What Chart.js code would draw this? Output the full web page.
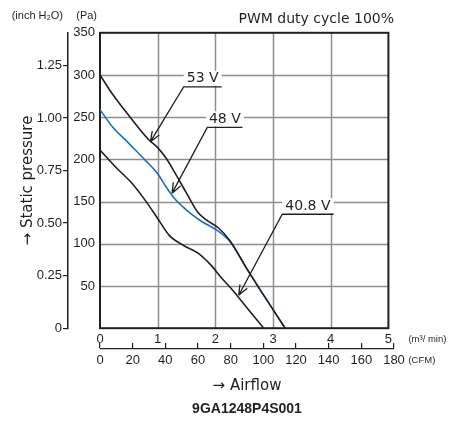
<!DOCTYPE html>
<html lang="en">
<head>
<meta charset="UTF-8" />
<title>9GA1248P4S001</title>
<script src="https://cdn.jsdelivr.net/npm/chart.js@4.4.1/dist/chart.umd.min.js"></script>
<style>
  html, body { margin: 0; padding: 0; background: #fff; }
  #wrap { width: 452px; height: 421px; position: relative; }
</style>
</head>
<body>
<div id="wrap"><canvas id="pq"></canvas></div>
<script>
// airflow (m3/min) vs static pressure (Pa)
const flow53 = [0, 0.2, 0.5, 0.85, 1.0, 1.15, 1.3, 1.5, 1.7, 1.85, 2.05, 2.25, 2.55, 2.8, 3.21];
const pres53 = [300, 279, 252, 223, 214, 201, 184, 160, 137, 128, 119, 104, 70, 43, 0];

const flow48 = [0, 0.2, 0.5, 0.8, 1.0, 1.15, 1.3, 1.5, 1.75, 2.05, 2.25, 2.55, 2.8, 3.21];
const pres48 = [259, 240, 219, 198, 183, 167, 153, 140, 127, 115, 103, 70, 43, 0];

const flow408 = [0, 0.27, 0.55, 0.8, 1.0, 1.2, 1.45, 1.7, 1.92, 2.1, 2.3, 2.55, 2.84];
const pres408 = [211, 191, 172, 150, 130, 110, 98, 89, 75, 60, 45, 24, 0];

const flowTicks = [0, 1, 2, 3, 4, 5];
const pressTicks = [0, 50, 100, 150, 200, 250, 300, 350];
const inchTicks = [0, 0.25, 0.5, 0.75, 1.0, 1.25];
const cfmTicks = [0, 20, 40, 60, 80, 100, 120, 140, 160, 180];

const CFM_PER_M3 = 35.3147;
const PA_PER_INCH = 249.089;

// voltage callouts: underline span (x), its height (Pa) and arrow tip
const callouts = [
  { text: '53 V', x1: 1.45, x2: 2.11, p: 286, tipX: 0.875, tipP: 221 },
  { text: '48 V', x1: 1.86, x2: 2.47, p: 238, tipX: 1.25, tipP: 160 },
  { text: '40.8 V', x1: 3.16, x2: 4.05, p: 135, tipX: 2.405, tipP: 39 }
];

const ink = '#231f20';
const narrow = '"Liberation Sans Narrow", "Liberation Sans", Arial, sans-serif';
const sans = '"DejaVu Sans", sans-serif';

function pts(xs, ys) {
  return xs.map((v, i) => ({ x: v, y: ys[i] }));
}

const frameGrid = {
  id: 'frameGrid',
  beforeDatasetsDraw(chart) {
    const { ctx, scales: { x, y } } = chart;
    const left = x.getPixelForValue(0), right = x.getPixelForValue(5);
    const bottom = y.getPixelForValue(0), top = y.getPixelForValue(350);
    ctx.save();
    ctx.strokeStyle = '#8e8e8e';
    ctx.lineWidth = 1.5;
    ctx.beginPath();
    pressTicks.slice(1, -1).forEach(v => {
      const py = Math.round(y.getPixelForValue(v)) + 0.5;
      ctx.moveTo(left, py); ctx.lineTo(right, py);
    });
    flowTicks.slice(1, -1).forEach(v => {
      const px = Math.round(x.getPixelForValue(v)) + 0.5;
      ctx.moveTo(px, top); ctx.lineTo(px, bottom);
    });
    ctx.stroke();
    ctx.strokeStyle = ink;
    ctx.lineWidth = 2;
    ctx.strokeRect(left, top, right - left, bottom - top);
    ctx.restore();
  },
  afterDraw(chart) {
    const { ctx, chartArea, scales } = chart;
    const cfm = scales.cfm;
    ctx.save();
    // CFM axis line, ticks sit on top of it
    ctx.strokeStyle = ink;
    ctx.lineWidth = 1.2;
    ctx.beginPath();
    ctx.moveTo(cfm.left, cfm.top + 5.5);
    ctx.lineTo(cfm.right, cfm.top + 5.5);
    ctx.stroke();

    ctx.fillStyle = ink;
    ctx.textBaseline = 'middle';
    ctx.font = '11px ' + narrow;
    ctx.textAlign = 'right';
    ctx.fillText('(Pa)', scales.y.right - 3, chartArea.top - 17);
    ctx.fillText('(inch H\u2082O)', scales.yIn.right - 5, chartArea.top - 17);
    ctx.textAlign = 'left';
    ctx.font = '9.5px ' + narrow;
    const ux = scales.x.getPixelForValue(5) + 20;
    ctx.fillText('(m\u00b3/ min)', ux, chartArea.bottom + 11);
    ctx.fillText('(CFM)', ux, cfm.top + 17);
    ctx.restore();
  }
};

const calloutPlugin = {
  id: 'callouts',
  afterDatasetsDraw(chart) {
    const { ctx, scales: { x, y } } = chart;
    ctx.save();
    ctx.strokeStyle = ink;
    ctx.fillStyle = ink;
    ctx.lineWidth = 1.3;
    ctx.font = '14px ' + sans;
    callouts.forEach(c => {
      const ax = x.getPixelForValue(c.x1), bx = x.getPixelForValue(c.x2);
      const ly = y.getPixelForValue(c.p);
      const tx = x.getPixelForValue(c.tipX), ty = y.getPixelForValue(c.tipP);
      // text on a white patch above the underline
      const cx = (ax + bx) / 2, cy = ly - 8;
      const w = ctx.measureText(c.text).width;
      ctx.fillStyle = '#fff';
      ctx.fillRect(cx - w / 2 - 3, cy - 8, w + 6, 15);
      ctx.fillStyle = ink;
      ctx.textAlign = 'center';
      ctx.textBaseline = 'middle';
      ctx.fillText(c.text, cx, cy);
      ctx.beginPath();
      ctx.moveTo(bx, ly); ctx.lineTo(ax, ly); ctx.lineTo(tx, ty);
      const ang = Math.atan2(ty - ly, tx - ax);
      [0.38, -0.38].forEach(d => {
        ctx.moveTo(tx, ty);
        ctx.lineTo(tx - 11 * Math.cos(ang + d), ty - 11 * Math.sin(ang + d));
      });
      ctx.stroke();
    });
    ctx.restore();
  }
};

const lineSet = (label, data, color) => ({
  label, data,
  borderColor: color,
  borderWidth: 1.6,
  pointRadius: 0,
  cubicInterpolationMode: 'monotone',
  fill: false
});

new Chart(document.getElementById('pq'), {
  type: 'line',
  data: {
    datasets: [
      lineSet('53 V', pts(flow53, pres53), ink),
      lineSet('48 V', pts(flow48, pres48), '#1c6fc3'),
      lineSet('40.8 V', pts(flow408, pres408), ink)
    ]
  },
  options: {
    responsive: true,
    maintainAspectRatio: false,
    animation: false,
    events: [],
    layout: { padding: { left: 0, right: 58, top: 0, bottom: 0 } },
    plugins: {
      legend: { display: false },
      tooltip: { enabled: false },
      title: {
        display: true,
        text: 'PWM duty cycle 100%',
        align: 'end',
        fullSize: false,
        color: ink,
        font: { family: sans, size: 14, weight: 'normal' },
        padding: { top: 11, bottom: 5 }
      },
      subtitle: {
        display: true,
        position: 'bottom',
        text: '9GA1248P4S001',
        fullSize: false,
        color: ink,
        font: { family: '"Liberation Sans", Arial, sans-serif', size: 14, weight: 'bold' },
        padding: { top: 6, bottom: 3 }
      }
    },
    scales: {
      x: {
        type: 'linear',
        position: 'bottom',
        weight: 0,
        min: 0,
        max: 180 / CFM_PER_M3,
        afterBuildTicks: s => { s.ticks = flowTicks.map(v => ({ value: v })); },
        afterFit: s => { s.height = 15; },
        grid: { display: false, drawTicks: false },
        border: { display: false },
        ticks: { color: ink, padding: 3, maxRotation: 0, font: { family: narrow, size: 13 } }
      },
      cfm: {
        type: 'linear',
        position: 'bottom',
        weight: 1,
        min: 0,
        max: 180,
        afterBuildTicks: s => { s.ticks = cfmTicks.map(v => ({ value: v })); },
        afterFit: s => { s.height = 52; },
        grid: { drawOnChartArea: false, drawTicks: true, tickLength: 5, color: ink, lineWidth: 1.2 },
        border: { display: false },
        ticks: { color: ink, padding: 4, maxRotation: 0, font: { family: narrow, size: 13 } },
        title: {
          display: true,
          text: '\u2192 Airflow',
          color: ink,
          font: { family: sans, size: 15 },
          padding: { top: 0, bottom: 0 }
        }
      },
      y: {
        type: 'linear',
        position: 'left',
        weight: 0,
        min: 0,
        max: 350,
        afterBuildTicks: s => { s.ticks = pressTicks.map(v => ({ value: v })); },
        afterFit: s => { s.width = 32; },
        grid: { display: false, drawTicks: false },
        border: { display: false },
        ticks: {
          color: ink, padding: 5,
          font: { family: narrow, size: 13 },
          callback: v => (v === 0 ? '' : String(v))
        }
      },
      yIn: {
        type: 'linear',
        position: 'left',
        weight: 1,
        min: 0,
        max: 350 / PA_PER_INCH,
        afterBuildTicks: s => { s.ticks = inchTicks.map(v => ({ value: v })); },
        afterFit: s => { s.width = 68; },
        grid: { drawOnChartArea: false, drawTicks: true, tickLength: 5, color: ink, lineWidth: 1.2 },
        border: { display: true, color: ink, width: 1.5 },
        ticks: {
          color: ink, padding: 1,
          font: { family: narrow, size: 13 },
          callback: v => (v === 0 ? '0' : v.toFixed(2))
        },
        title: {
          display: true,
          text: '\u2192 Static pressure',
          color: ink,
          font: { family: sans, size: 15 },
          padding: { top: 19, bottom: 0 }
        }
      }
    }
  },
  plugins: [frameGrid, calloutPlugin]
});
</script>
</body>
</html>
